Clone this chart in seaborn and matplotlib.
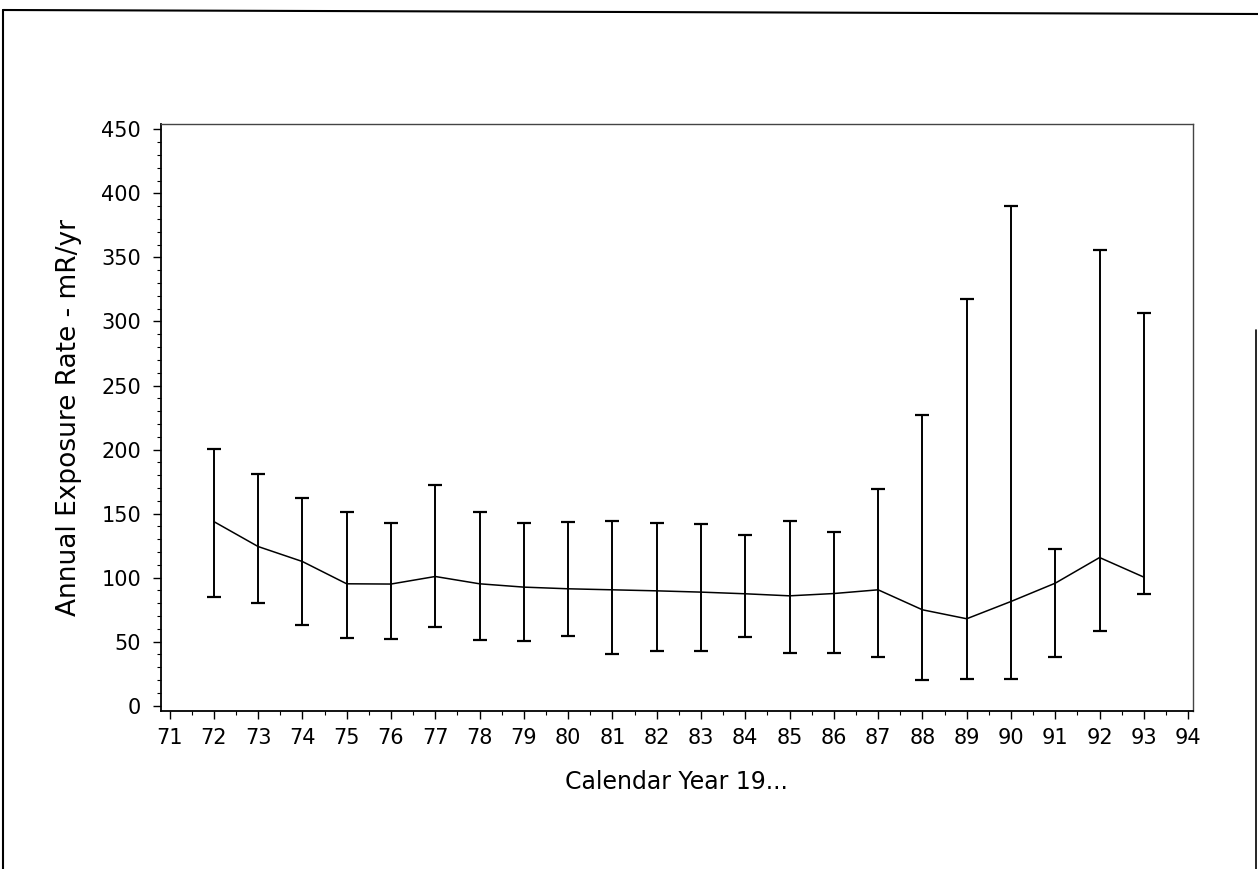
#%%
import numpy as np
import pandas as pd
import matplotlib
matplotlib.use('Agg')
import matplotlib.pyplot as plt
import seaborn as sns
from matplotlib.ticker import MultipleLocator

#%% data
years = [72, 73, 74, 75, 76, 77, 78, 79, 80, 81, 82, 83, 84, 85, 86, 87, 88, 89, 90, 91, 92, 93]
mean_rate = [143.8, 124.3, 112.6, 95.2, 95.0, 100.9, 95.2, 92.6, 91.3, 90.5, 89.7, 88.7,
             87.4, 85.8, 87.6, 90.5, 74.9, 67.9, 81.4, 95.7, 115.7, 100.4]
low_rate = [85.0, 80.3, 63.2, 52.8, 52.0, 61.1, 51.5, 50.7, 54.1, 40.3, 43.1, 43.1,
            53.6, 40.8, 41.0, 38.0, 20.0, 21.0, 21.0, 38.0, 58.5, 87.1]
high_rate = [200.2, 181.2, 162.0, 151.0, 142.7, 172.4, 151.6, 142.7, 143.3, 144.0, 142.5, 142.2,
             133.4, 144.6, 135.7, 169.0, 227.3, 317.5, 390.3, 122.2, 355.7, 306.8]
x_ticks = list(range(71, 95))
y_ticks = list(range(0, 451, 50))

df = pd.DataFrame({'year': years, 'rate': mean_rate, 'low': low_rate, 'high': high_rate})

#%%
sns.set_style('ticks')
plt.rcParams['font.family'] = ['DejaVu Sans']
plt.rcParams['text.color'] = 'black'
plt.rcParams['axes.labelcolor'] = 'black'

fig = plt.figure(figsize=(12.58, 8.69), dpi=100)
ax = fig.add_axes([0.1277, 0.182, 0.8203, 0.675])

sns.lineplot(x='year', y='rate', data=df, ax=ax, color='black', linewidth=1.1)
ax.errorbar(df['year'], df['rate'],
            yerr=[df['rate'] - df['low'], df['high'] - df['rate']],
            fmt='none', ecolor='black', elinewidth=1.4, capsize=5, capthick=1.6)

ax.set_xlim(70.8, 94.1)
ax.set_ylim(-4, 454)
ax.set_xticks(x_ticks)
ax.set_xticklabels([str(t) for t in x_ticks])
ax.set_yticks(y_ticks)
ax.xaxis.set_minor_locator(MultipleLocator(0.5))
ax.yaxis.set_minor_locator(MultipleLocator(10))
ax.tick_params(axis='both', which='major', length=6, width=1, labelsize=15,
               colors='black', labelcolor='black')
ax.tick_params(axis='both', which='minor', length=3, width=0.8, colors='black')
ax.tick_params(axis='y', pad=8)
ax.tick_params(axis='x', pad=6)

for side in ['left', 'bottom']:
    ax.spines[side].set_linewidth(1.3)
    ax.spines[side].set_color('black')
for side in ['top', 'right']:
    ax.spines[side].set_visible(True)
    ax.spines[side].set_linewidth(1.0)
    ax.spines[side].set_color('#444444')

ax.set_xlabel('Calendar Year 19...', fontsize=17, labelpad=16)
ax.set_ylabel('Annual Exposure Rate - mR/yr', fontsize=19, labelpad=14)

# page frame from the scanned document
fig.add_artist(plt.Line2D([3 / 1258, 3 / 1258], [0, 1 - 10 / 869], color='black', lw=1.5))
fig.add_artist(plt.Line2D([3 / 1258, 1], [1 - 10 / 869, 1 - 14 / 869], color='black', lw=1.5))
fig.add_artist(plt.Line2D([1256 / 1258, 1256 / 1258], [0, 1 - 330 / 869], color='black', lw=1.2))

fig.savefig('out.png', dpi=100)
